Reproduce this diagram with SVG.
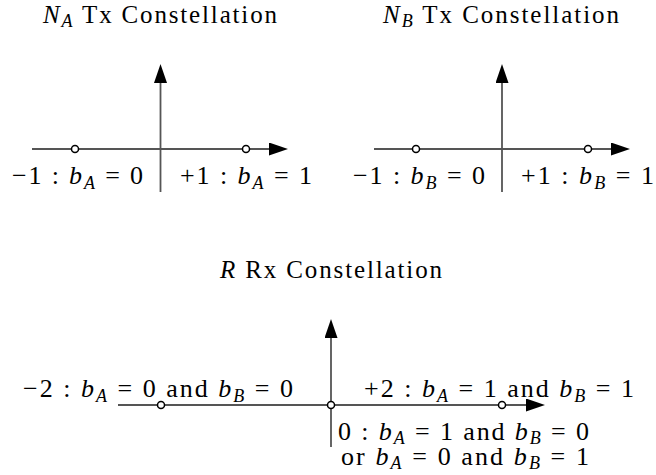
<svg xmlns="http://www.w3.org/2000/svg" width="656" height="475" viewBox="0 0 656 475">
<style>
text{font-family:'Liberation Serif','Tinos','Noto Serif','DejaVu Serif','Times New Roman',Times,serif;font-size:26px;fill:#000}
.t{font-size:25px}
.i{font-style:italic}
.s{font-style:italic;font-size:18px}
.ax{stroke:#555;stroke-width:1.8;fill:none}
.pt{fill:#fff;stroke:#000;stroke-width:1.5}
</style>
<defs>
<marker id="ah" markerUnits="userSpaceOnUse" markerWidth="20" markerHeight="14" refX="0" refY="6.5" orient="auto" viewBox="0 0 20 14">
<path d="M0,0 L19,6.5 L0,13 Z" fill="#000"/>
</marker>
</defs>
<rect width="656" height="475" fill="#fff"/>

<g id="connectors">
<line class="ax" x1="32" y1="149" x2="269" y2="149" marker-end="url(#ah)"/>
<line class="ax" x1="160.5" y1="192" x2="160.5" y2="83" marker-end="url(#ah)"/>
<line class="ax" x1="374" y1="149" x2="611" y2="149" marker-end="url(#ah)"/>
<line class="ax" x1="502" y1="192" x2="502" y2="83" marker-end="url(#ah)"/>
<line class="ax" x1="118" y1="405" x2="526" y2="405" marker-end="url(#ah)"/>
<line class="ax" x1="331" y1="447" x2="331" y2="338" marker-end="url(#ah)"/>
</g>

<g id="panelA">
<text class="t" x="160" y="23" text-anchor="middle" textLength="234"><tspan class="i">N</tspan><tspan class="s" dy="4">A</tspan><tspan dy="-4"> Tx Constellation</tspan></text>
<circle class="pt" cx="75" cy="149" r="3.5"/>
<circle class="pt" cx="246" cy="149" r="3.5"/>
<text x="77.5" y="184" text-anchor="middle" textLength="131">−1 : <tspan class="i">b</tspan><tspan class="s" dy="5">A</tspan><tspan dy="-5"> = 0</tspan></text>
<text x="246" y="184" text-anchor="middle" textLength="132">+1 : <tspan class="i">b</tspan><tspan class="s" dy="5">A</tspan><tspan dy="-5"> = 1</tspan></text>
</g>

<g id="panelB">
<text class="t" x="501" y="23" text-anchor="middle" textLength="236"><tspan class="i">N</tspan><tspan class="s" dy="4">B</tspan><tspan dy="-4"> Tx Constellation</tspan></text>
<circle class="pt" cx="416" cy="149" r="3.5"/>
<circle class="pt" cx="588" cy="149" r="3.5"/>
<text x="419" y="184" text-anchor="middle" textLength="132">−1 : <tspan class="i">b</tspan><tspan class="s" dy="5">B</tspan><tspan dy="-5"> = 0</tspan></text>
<text x="587.5" y="184" text-anchor="middle" textLength="133">+1 : <tspan class="i">b</tspan><tspan class="s" dy="5">B</tspan><tspan dy="-5"> = 1</tspan></text>
</g>

<g id="panelR">
<text class="t" x="331" y="278" text-anchor="middle" textLength="222"><tspan class="i">R</tspan> Rx Constellation</text>
<circle class="pt" cx="161" cy="405" r="3.5"/>
<circle class="pt" cx="331" cy="405" r="3.5"/>
<circle class="pt" cx="502" cy="405" r="3.5"/>
<text x="158" y="397" text-anchor="middle" textLength="270">−2 : <tspan class="i">b</tspan><tspan class="s" dy="5">A</tspan><tspan dy="-5"> = 0 and </tspan><tspan class="i">b</tspan><tspan class="s" dy="5">B</tspan><tspan dy="-5"> = 0</tspan></text>
<text x="499" y="397" text-anchor="middle" textLength="270">+2 : <tspan class="i">b</tspan><tspan class="s" dy="5">A</tspan><tspan dy="-5"> = 1 and </tspan><tspan class="i">b</tspan><tspan class="s" dy="5">B</tspan><tspan dy="-5"> = 1</tspan></text>
<text x="338" y="440" textLength="251">0 : <tspan class="i">b</tspan><tspan class="s" dy="4">A</tspan><tspan dy="-4"> = 1 and </tspan><tspan class="i">b</tspan><tspan class="s" dy="4">B</tspan><tspan dy="-4"> = 0</tspan></text>
<text x="341" y="465" textLength="248">or <tspan class="i">b</tspan><tspan class="s" dy="4">A</tspan><tspan dy="-4"> = 0 and </tspan><tspan class="i">b</tspan><tspan class="s" dy="4">B</tspan><tspan dy="-4"> = 1</tspan></text>
</g>
</svg>
